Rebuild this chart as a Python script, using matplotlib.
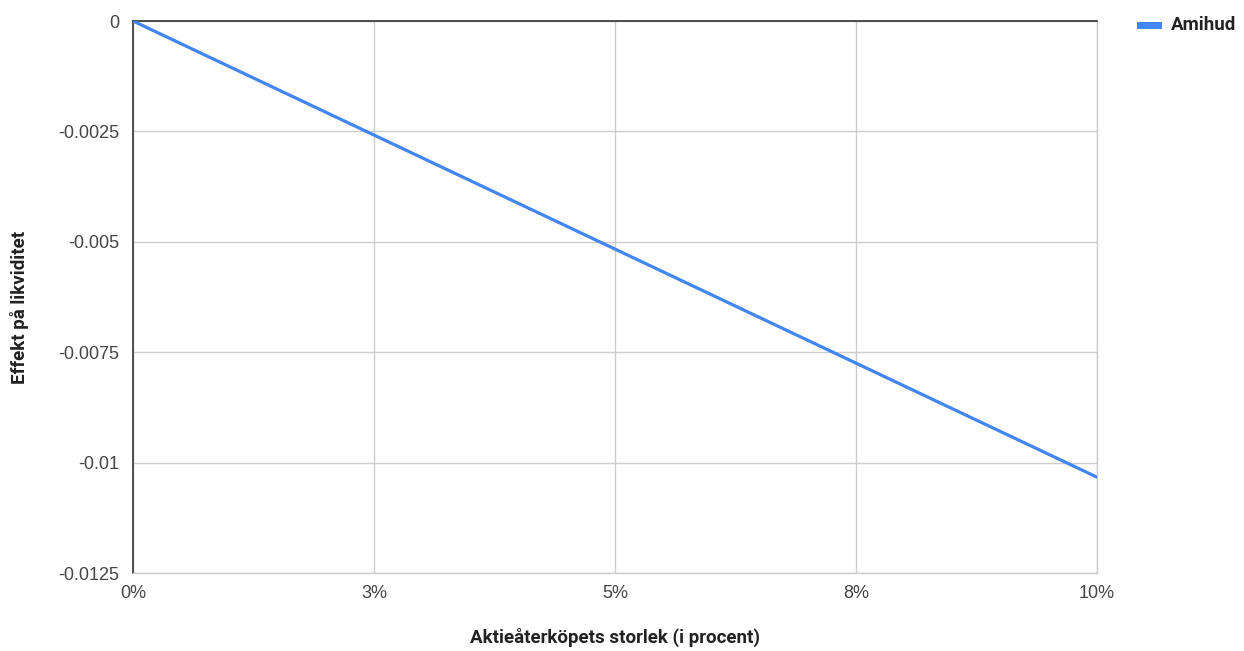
import matplotlib
matplotlib.use("Agg")
import matplotlib.pyplot as plt
from matplotlib.lines import Line2D

# Buyback size (share of outstanding stock) and estimated effect on Amihud illiquidity
buyback_size = [0.0, 0.10]
amihud_effect = [0.0, -0.01033]

x_ticks = [0.0, 0.025, 0.05, 0.075, 0.10]
x_tick_labels = ["0%", "3%", "5%", "8%", "10%"]
y_ticks = [0.0, -0.0025, -0.005, -0.0075, -0.01, -0.0125]
y_tick_labels = ["0", "-0.0025", "-0.005", "-0.0075", "-0.01", "-0.0125"]

series_name = "Amihud"
x_title = "Aktieåterköpets storlek (i procent)"
y_title = "Effekt på likviditet"

plt.rcParams["font.family"] = ["Roboto", "DejaVu Sans"]

W, H = 1244, 651
fig = plt.figure(figsize=(W / 100, H / 100), dpi=100)
ax = fig.add_axes([133 / W, 1 - 573 / H, (1097 - 133) / W, (573 - 21) / H])

line_color = "#4285f4"
ax.plot(buyback_size, amihud_effect, color=line_color, lw=2.3, solid_capstyle="round", zorder=3)

ax.set_xlim(0, 0.10)
ax.set_ylim(-0.0125, 0)
ax.set_xticks(x_ticks)
ax.set_xticklabels(x_tick_labels)
ax.set_yticks(y_ticks)
ax.set_yticklabels(y_tick_labels)

ax.grid(True, color="#cccccc", lw=1)
ax.set_axisbelow(True)
for side in ["right", "bottom"]:
    ax.spines[side].set_color("#cccccc")
    ax.spines[side].set_linewidth(1)
for side in ["left", "top"]:
    ax.spines[side].set_color("#333333")
    ax.spines[side].set_linewidth(1.2)

ax.tick_params(length=0, labelcolor="#444444")
ax.tick_params(axis="y", pad=10)
ax.tick_params(axis="x", pad=9)
for lbl in ax.get_xticklabels() + ax.get_yticklabels():
    lbl.set_fontfamily(["Liberation Sans", "DejaVu Sans"])
    lbl.set_fontsize(13)

fig.text(615 / W, 1 - 637 / H, x_title, ha="center", va="center",
         fontsize=13.5, fontweight="bold", color="#222222")
fig.text(20 / W, 1 - 307 / H, y_title, ha="center", va="center", rotation=90,
         fontsize=13.5, fontweight="bold", color="#222222")

# Legend entry: colour swatch and series name
legend_y = 1 - 25 / H
fig.add_artist(Line2D([1140 / W, 1158 / W], [legend_y, legend_y], color=line_color,
                      lw=5, transform=fig.transFigure))
fig.text(1171 / W, legend_y, series_name, ha="left", va="center",
         fontsize=13.5, fontweight="bold", color="#222222")

fig.savefig("out.png", dpi=100, facecolor="white")
